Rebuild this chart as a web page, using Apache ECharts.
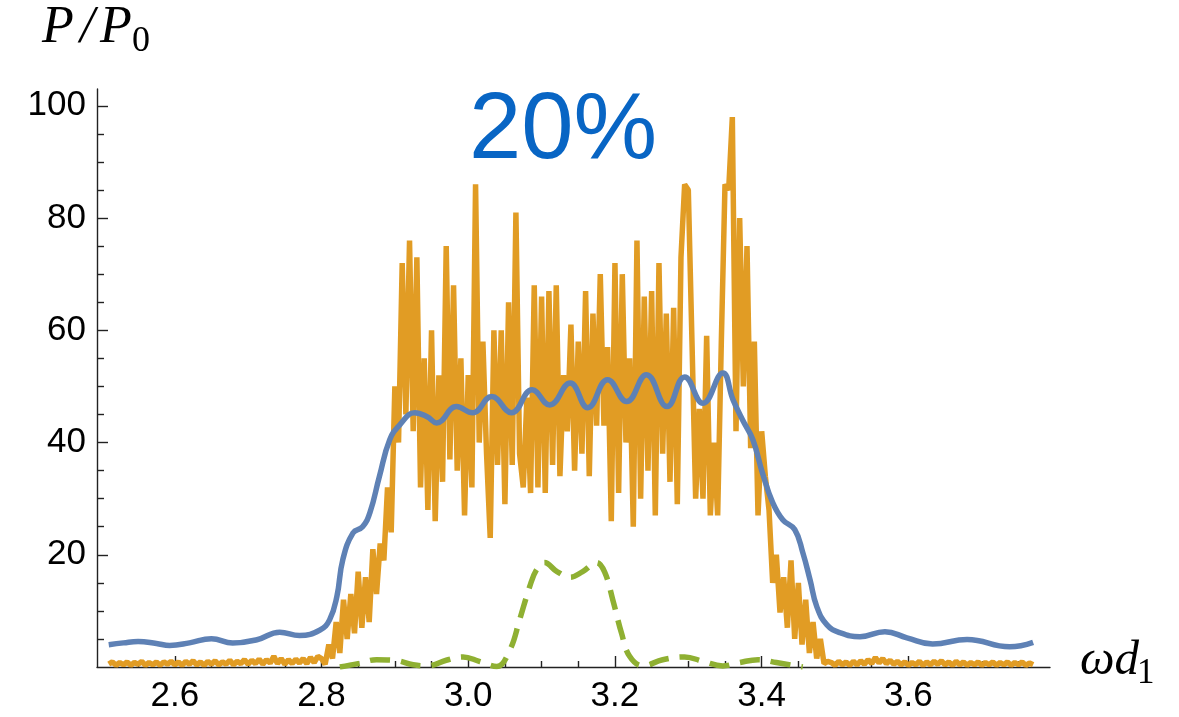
<!DOCTYPE html>
<html><head><meta charset="utf-8">
<script src="https://cdn.jsdelivr.net/npm/echarts@6/dist/echarts.min.js"></script>
<style>html,body{margin:0;padding:0;background:#fff}#c{width:1179px;height:717px}</style>
</head><body><div id="c"></div>
<script>
// ---- data ----
const xMajorTicks = [2.6, 2.8, 3.0, 3.2, 3.4, 3.6];
const xMinorTicks = [2.55, 2.65, 2.7, 2.75, 2.85, 2.9, 2.95, 3.05, 3.1, 3.15, 3.25, 3.3, 3.35, 3.45, 3.5, 3.55, 3.65, 3.7, 3.75];
const yMajorTicks = [20, 40, 60, 80, 100];
const yMinorTicks = [5, 10, 15, 25, 30, 35, 45, 50, 55, 65, 70, 75, 85, 90, 95];

// orange (full structure) sampled every 0.005 in x
const orangeStart = 2.51;
const orangeStep = 0.005;
const orangeLeftY = [0.5,0.9,0.3,0.8,0.4,0.9,0.3,0.8,0.5,1.0,
  0.3,0.8,0.4,0.9,0.3,0.9,0.5,1.0,0.4,0.9,
  0.3,1.0,0.5,1.1,0.4,0.9,0.3,1.0,0.5,1.1,
  0.4,0.9,0.5,1.2,0.4,1.0,0.6,1.3,0.5,1.2,
  0.6,1.4,0.5,1.3,0.7,1.9,0.6,1.5,0.5,1.3,
  0.6,1.4,0.7,1.5,0.6,1.7,0.8,1.9];
const orangeMidY = [1.5,0.5,4,1.5,8,2.5,12,5,13,6,
  17,7,16,8,21,13,22,19,32,24,
  50,40,72,45,76,42,73,32,55,28,
  60,26,52,33,75,37,68,35,55,27,
  52,32,86,40,58,38,23,60,36,60,
  29,65,36,81,38,32,48,31,68,32,
  66,31,67,36,68,34,52,42,61,35,
  58,38,67,34,63,43,70,43,57,26,
  72,31,70,40,55,25,76,30,66,35,
  67,27,72,38,63,33,64,29,73,86,
  85,58,30,46,30,59,27,40,27,58,
  86,85,98,42,80,50,75,39,58,27,
  42,34,28,15,20,9.7,16,7,19,5,
  15,4,12,2.5,8,1.5,5,0.6,1];
const orangeRightY = [0.8,0.3,1.0,0.4,0.9,0.3,1.0,0.4,1.1,0.5,
  1.3,0.6,1.7,0.7,1.5,0.6,1.2,0.5,1.0,0.4,
  0.9,0.3,0.8,0.4,1.0,0.3,0.9,0.4,1.0,0.5,
  1.1,0.4,0.9,0.3,1.0,0.4,0.9,0.3,0.8,0.4,
  0.9,0.3,0.8,0.4,0.9,0.3,0.8,0.4,0.9,0.3,
  0.8,0.4,0.9,0.3,0.7,0.4];

// blue (smoothed)
const blueX = [2.51,2.53,2.55,2.575,2.593,2.62,2.65,2.679,2.712,2.743,2.77,2.798,2.811,2.821,2.829,2.843,2.856,2.866,2.879,2.893,2.907,2.927,2.944,2.957,2.984,3.006,3.032,3.059,3.087,3.111,3.139,3.163,3.19,3.216,3.243,3.271,3.295,3.32,3.347,3.361,3.374,3.388,3.401,3.415,3.429,3.445,3.456,3.466,3.475,3.489,3.507,3.534,3.568,3.598,3.633,3.68,3.738,3.77];
const blueY = [3.97,4.3,4.56,4.2,3.85,4.3,5.04,4.27,4.86,6.2,5.6,6.6,8.4,12.6,19.1,23.9,25,27.5,34,40.5,43.2,45.3,44.6,43.5,46.4,45.3,48.2,45.3,49.4,46.7,50.6,46.2,51.2,47.3,52.1,46.4,51.7,47,52.4,47.6,44,40.5,34.6,29.3,26.2,24.5,20.4,15.5,10.8,7.5,6.1,5.4,6.3,5.2,4.1,4.9,3.6,4.4];

// green (dashed)
const greenX = [2.825,2.85,2.875,2.9,2.925,2.945,2.97,2.993,3.015,3.039,3.057,3.07,3.084,3.093,3.104,3.121,3.139,3.156,3.175,3.186,3.197,3.209,3.22,3.238,3.265,3.295,3.32,3.347,3.37,3.395,3.42,3.456];
const greenY = [0,0.6,1.3,1.2,0.4,0.2,1.2,1.8,1.0,0.1,3.1,8.4,14.4,17.3,18.6,17,16,17,18.6,16.9,12,6,1.9,0.2,1.3,1.8,1.0,0.2,0.8,1.3,0.8,0];

const annotation = '20%';

// ---- build ----
const orangeY = orangeLeftY.concat(orangeMidY, orangeRightY);
const orangeData = orangeY.map((v, i) => [orangeStart + i * orangeStep, v]);
const blueData = blueX.map((x, i) => [x, blueY[i]]);
const greenData = greenX.map((x, i) => [x, greenY[i]]);

const AX = '#222';
const LABEL_FONT = 'Liberation Sans, Arial, sans-serif';
const SERIF = '"Liberation Serif", "DejaVu Serif", serif';
const chart = echarts.init(document.getElementById('c'), null, {renderer: 'canvas'});
chart.setOption({
  animation: false,
  backgroundColor: '#fff',
  grid: {left: 97, right: 129, top: 89, bottom: 50, containLabel: false},
  xAxis: [{
    type: 'value', min: 2.494, max: 3.793,
    axisLine: {show: true, lineStyle: {color: AX, width: 1.4}},
    axisTick: {show: true, inside: true, length: 11, customValues: xMajorTicks, lineStyle: {color: AX, width: 1.4}},
    axisLabel: {show: true, customValues: xMajorTicks, margin: 12, color: '#000', fontSize: 35, fontFamily: LABEL_FONT,
      formatter: v => v.toFixed(1)},
    splitLine: {show: false}
  }, {
    type: 'value', min: 2.494, max: 3.793, position: 'bottom',
    axisLine: {show: false},
    axisTick: {show: true, inside: true, length: 6, customValues: xMinorTicks, lineStyle: {color: AX, width: 1.4}},
    axisLabel: {show: false},
    splitLine: {show: false}
  }],
  yAxis: [{
    type: 'value', min: 0, max: 103,
    axisLine: {show: true, lineStyle: {color: AX, width: 1.4}},
    axisTick: {show: true, inside: true, length: 11, customValues: yMajorTicks, lineStyle: {color: AX, width: 1.4}},
    axisLabel: {show: true, customValues: yMajorTicks, margin: 11, color: '#000', fontSize: 35, fontFamily: LABEL_FONT},
    splitLine: {show: false}
  }, {
    type: 'value', min: 0, max: 103, position: 'left',
    axisLine: {show: false},
    axisTick: {show: true, inside: true, length: 7, customValues: yMinorTicks, lineStyle: {color: AX, width: 1.4}},
    axisLabel: {show: false},
    splitLine: {show: false}
  }],
  series: [{
    type: 'line', name: 'orange', data: orangeData, showSymbol: false, symbol: 'none',
    lineStyle: {color: '#E19C24', width: 5.5, join: 'bevel'}, z: 2
  }, {
    type: 'line', name: 'green', data: greenData, showSymbol: false, symbol: 'none', smooth: 0.4,
    lineStyle: {color: '#8FB032', width: 5.5, type: [20, 11]}, z: 3
  }, {
    type: 'line', name: 'blue', data: blueData, showSymbol: false, symbol: 'none', smooth: 0.45,
    lineStyle: {color: '#5E81B5', width: 5.5}, z: 4
  }],
  graphic: [
    {type: 'text', left: 42, top: 2, style: {text: 'P', font: 'italic 52px ' + SERIF, fill: '#000'}},
    {type: 'text', left: 80, top: 2, style: {text: '/', font: 'italic 52px ' + SERIF, fill: '#000'}},
    {type: 'text', left: 100, top: 2, style: {text: 'P', font: 'italic 52px ' + SERIF, fill: '#000'}},
    {type: 'text', left: 132, top: 24, style: {text: '0', font: '36px ' + SERIF, fill: '#000'}},
    {type: 'text', left: 1080, top: 637, style: {text: 'ωd', font: 'italic 49px ' + SERIF, fill: '#000'}},
    {type: 'text', left: 1137, top: 656, style: {text: '1', font: '35px ' + SERIF, fill: '#000'}},
    {type: 'text', style: {x: 563, y: 132, text: annotation, textAlign: 'center', textVerticalAlign: 'middle', font: '94px "Liberation Sans", Arial, sans-serif', fill: '#0865C4'}}
  ]
});
</script>
</body></html>
